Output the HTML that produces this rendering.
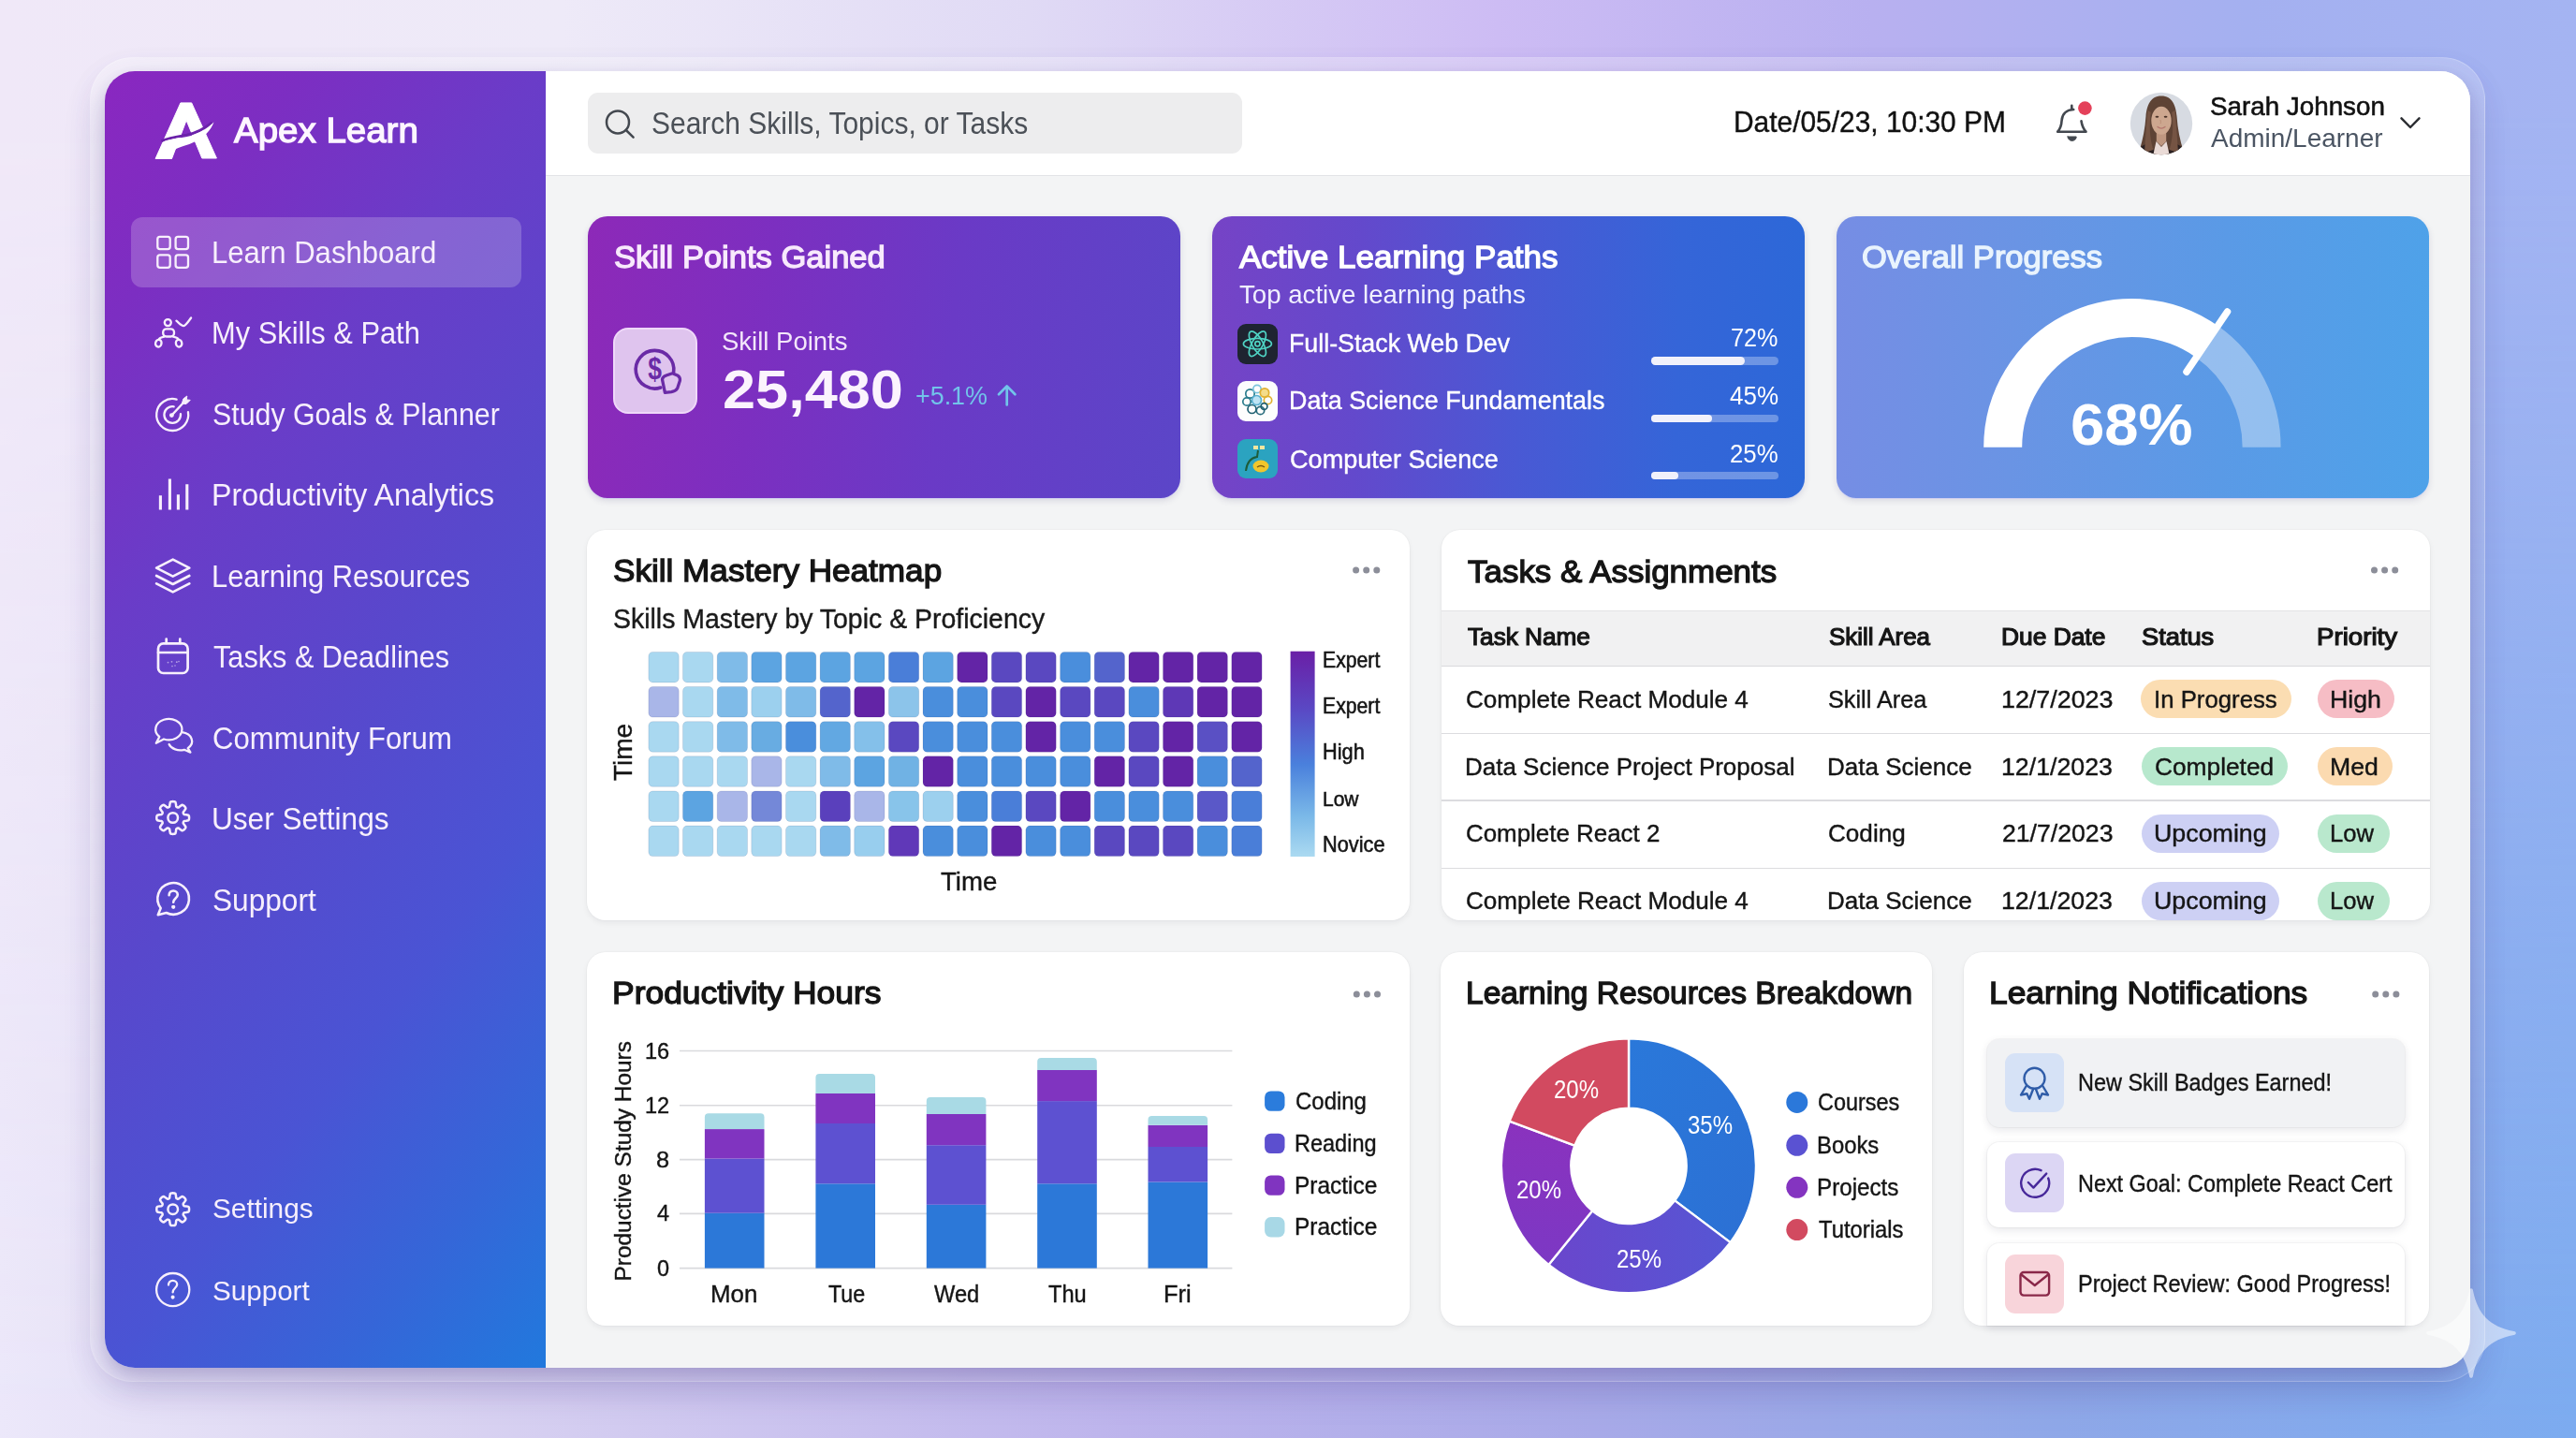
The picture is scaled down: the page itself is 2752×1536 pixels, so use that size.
<!DOCTYPE html>
<html lang="en">
<head>
<meta charset="utf-8">
<title>Apex Learn – Learn Dashboard</title>
<style>
html,body{margin:0;padding:0}
body{width:2752px;height:1536px;position:relative;overflow:hidden;font-family:"Liberation Sans",sans-serif;
 background:linear-gradient(90deg,#ece8fa 0px,#dcd6f2 400px,#bdb4ec 1200px,#a8aae8 1700px,#8fa8e8 2200px,#7cacf0 2752px)}
.bgtop{position:absolute;left:0;top:0;width:2752px;height:1536px;
 background:linear-gradient(90deg,#f0e8f8 0px,#eeeaf8 600px,#e0daf5 1100px,#cdbcf4 1600px,#b8b0f0 2000px,#a4b0f0 2400px,#a4b4f2 2752px);
 -webkit-mask-image:linear-gradient(180deg,#000 0%,#000 8%,rgba(0,0,0,0) 100%);mask-image:linear-gradient(180deg,#000 0%,#000 8%,rgba(0,0,0,0) 100%)}
.glass{position:absolute;left:96px;top:61px;width:2559px;height:1415px;border-radius:46px;box-sizing:border-box;
 background:linear-gradient(155deg,rgba(255,255,255,.34) 0%,rgba(255,255,255,.22) 45%,rgba(255,255,255,.09) 100%);border:1.5px solid rgba(255,255,255,.22);
 box-shadow:0 10px 30px rgba(70,50,130,.05)}
.win{position:absolute;left:112px;top:76px;width:2527px;height:1385px;border-radius:32px;overflow:hidden;background:#f3f4f5;box-shadow:0 18px 40px rgba(62,48,135,.27),0 6px 14px rgba(62,48,135,.12)}
.pg{position:absolute;left:-112px;top:-76px;width:2752px;height:1536px}
.pg>div,.pg>svg{position:absolute}
.side{left:112px;top:76px;width:471px;height:1385px;
 background:linear-gradient(128deg,#8a27c0 0%,#7c2ec2 14%,#6a3cc8 30%,#5848cc 50%,#4a54d4 70%,#3566d8 86%,#2179dd 100%)}
.navact{left:140px;top:231.5px;width:417px;height:75px;border-radius:12px;background:rgba(255,255,255,.20)}
.head{left:583px;top:76px;width:2056px;height:110.5px;background:#fff;border-bottom:1.5px solid #e2e3e6}
.search{left:628px;top:99px;width:699px;height:65px;border-radius:11px;background:#ededee}
.card{background:#fff;border-radius:20px;box-shadow:0 3px 6px rgba(20,20,40,.055),0 0 0 1px rgba(0,0,0,.018)}
.c1{left:627.5px;top:231px;width:633.3px;height:300.8px;border-radius:21px;background:linear-gradient(98deg,#8d29b8 0%,#7c2fc0 30%,#6a3ac6 60%,#5b46c8 100%);box-shadow:0 3px 7px rgba(40,30,90,.13),0 1px 0 rgba(225,225,255,.9)}
.c2{left:1295px;top:231px;width:633.2px;height:300.8px;border-radius:21px;background:linear-gradient(92deg,#7643c6 0%,#6349cc 25%,#4959d4 52%,#3565d8 78%,#2c68d8 100%);box-shadow:0 3px 7px rgba(40,30,90,.13),0 1px 0 rgba(225,225,255,.9)}
.c3{left:1961.6px;top:231px;width:633.2px;height:300.8px;border-radius:21px;background:linear-gradient(92deg,#768de4 0%,#6a94e4 30%,#5a9ae6 65%,#4ea2e9 100%);box-shadow:0 3px 7px rgba(40,30,90,.12),0 1px 0 rgba(225,225,255,.9)}
.tile1{left:655px;top:349.8px;width:90.4px;height:92.2px;border-radius:16px;background:#dfc4ee;box-sizing:border-box;border:2px solid #efd8f9}
.ptile{width:42.5px;height:42.5px;border-radius:9px;left:1322.2px}
.ptrack{left:1764px;width:136.4px;height:8.6px;border-radius:5px;background:rgba(255,255,255,.30)}
.pfill{height:8.6px;border-radius:5px;background:#f1f1fb;position:absolute;left:0;top:0}
.thead{left:1539.5px;top:651.5px;width:1056px;height:58px;background:#f1f1f2;border-top:1.5px solid #e3e3e5;border-bottom:1.5px solid #d9d9dc}
.sep{left:1539.5px;width:1056px;height:1.6px;background:#dcdcdf}
.pill{height:41.3px;border-radius:21px}
.nitem{left:2123.3px;width:445.6px;border-radius:13px;background:#fff;box-shadow:0 3px 10px rgba(20,20,50,.10),0 0 0 1px rgba(0,0,0,.03)}
.ntile{left:2142.3px;width:63px;height:63px;border-radius:11px}
.t{position:absolute;white-space:nowrap;line-height:1;transform-origin:0 0;display:block}
.t .i{display:inline-block;transform-origin:0 50%}
.m{-webkit-text-stroke:.55px currentColor}
.r2{-webkit-text-stroke:.4px currentColor}
.sb{-webkit-text-stroke:1.2px currentColor}
.b{-webkit-text-stroke:1.3px currentColor}
.B{font-weight:700}
</style>
</head>
<body>
<div class="bgtop"></div>
<div class="glass"></div>
<div class="win"><div class="pg">
<div class="side"></div>
<div class="navact"></div>
<div class="head"></div>
<div class="search"></div>

<div class="c1"></div><div class="c2"></div><div class="c3"></div>
<div class="tile1"></div>
<div class="ptile" style="top:346px;background:#1e2431"></div>
<div class="ptile" style="top:407px;background:#fdfdfd"></div>
<div class="ptile" style="top:468.6px;background:#2ba3c0"></div>
<div class="ptrack" style="top:381.2px"><div class="pfill" style="width:99.5px"></div></div>
<div class="ptrack" style="top:442.5px"><div class="pfill" style="width:64.7px"></div></div>
<div class="ptrack" style="top:503.7px"><div class="pfill" style="width:28.8px"></div></div>

<div class="card" style="left:627.3px;top:566px;width:878.5px;height:416.5px"></div>
<div class="card" style="left:1539.5px;top:566px;width:1056px;height:417.3px"></div>
<div class="card" style="left:627.3px;top:1016.8px;width:878.5px;height:399.5px"></div>
<div class="card" style="left:1539.3px;top:1016.8px;width:524.7px;height:399.7px"></div>
<div class="card" style="left:2097.7px;top:1016.8px;width:497.5px;height:399.7px"></div>

<div class="thead"></div>
<div class="sep" style="top:782.5px"></div><div class="sep" style="top:854px"></div><div class="sep" style="top:926.5px"></div>
<div class="pill" style="left:2287.3px;top:726.2px;width:161.2px;background:#fbddb2"></div>
<div class="pill" style="left:2287.9px;top:798.2px;width:155.9px;background:#b7e8cd"></div>
<div class="pill" style="left:2287.9px;top:870.2px;width:147.4px;background:#cdd0f4"></div>
<div class="pill" style="left:2287.9px;top:942.2px;width:147.4px;background:#cdd0f4"></div>
<div class="pill" style="left:2476px;top:726.2px;width:82px;background:#f6bdc5"></div>
<div class="pill" style="left:2476px;top:798.2px;width:79.8px;background:#fbdab0"></div>
<div class="pill" style="left:2476px;top:870.2px;width:77.3px;background:#b9e8cd"></div>
<div class="pill" style="left:2476px;top:942.2px;width:77.3px;background:#b9e8cd"></div>

<div class="nitem" style="top:1109.7px;height:94px;background:#f1f2f4"></div>
<div class="nitem" style="top:1219.8px;height:91px"></div>
<div class="nitem" style="top:1327.8px;height:88.7px;border-radius:13px 13px 0 0"></div>
<div class="ntile" style="top:1125.4px;background:#d6e2f6"></div>
<div class="ntile" style="top:1232.4px;background:#dcd6f4"></div>
<div class="ntile" style="top:1340px;background:#f8d4da"></div>

<svg width="2752" height="1536" viewBox="0 0 2752 1536" style="left:0;top:0">
<defs>
 <linearGradient id="gLeg" x1="0" y1="0" x2="0" y2="1"><stop offset="0" stop-color="#6a1fa6"/><stop offset=".28" stop-color="#5a48c4"/><stop offset=".55" stop-color="#4a80dc"/><stop offset=".8" stop-color="#7ab8e8"/><stop offset="1" stop-color="#abdaf1"/></linearGradient>
 <linearGradient id="gBlue" x1="0" y1="0" x2="1" y2="1"><stop offset="0" stop-color="#2a78da"/><stop offset="1" stop-color="#2c70d4"/></linearGradient>
 <linearGradient id="gInd" x1="1" y1="0" x2="0" y2="0"><stop offset="0" stop-color="#5656d4"/><stop offset="1" stop-color="#6a46cc"/></linearGradient>
 <linearGradient id="gPur" x1="0" y1="1" x2="0" y2="0"><stop offset="0" stop-color="#7c38c4"/><stop offset="1" stop-color="#8a32be"/></linearGradient>
 <clipPath id="av"><circle cx="2309" cy="132" r="33.2"/></clipPath>
</defs>

<!-- logo -->
<g fill="#fff">
 <path d="M192.9 109.9 L204.7 109.9 L231.4 169 L215.8 169 L199.1 128.5 L183.5 169.5 L166.1 169.5 Z" stroke="#fff" stroke-width="1" stroke-linejoin="round"/>
 <path d="M172.500 150.600 C183 146.300 192 145.600 199.500 144.200 C211 141.600 219.500 136.600 226.500 130.800" fill="none" stroke="#6b22aa" stroke-width="2.8" stroke-linecap="butt"/>
 <path d="M174.800 151.200 C184 147.800 193 147.300 199.700 146 C212 143.300 221 137.500 228.500 130.400 C225 139.500 218 146.500 209 151 C200 155.500 191 157 186.200 160.200 L183.500 169.500 L166.100 169.500 Z"/>
</g>

<!-- nav icons -->
<g fill="none" stroke="#f7effc" stroke-width="2.3" stroke-linecap="round" stroke-linejoin="round">
 <rect x="168.3" y="252.8" width="13.4" height="13.4" rx="2.6"/><rect x="187.6" y="252.8" width="13.4" height="13.4" rx="2.6"/>
 <rect x="168.3" y="272.4" width="13.4" height="13.4" rx="2.6"/><rect x="187.6" y="272.4" width="13.4" height="13.4" rx="2.6"/>
 <!-- my skills -->
 <circle cx="179.300" cy="344.600" r="3.500"/>
 <rect x="174.200" y="351.300" width="11.800" height="8.200" rx="3.500"/>
 <path d="M175.400 359.600 C171.800 360.400 170.100 361.400 169.600 362.700 M185 359.600 C188.600 360.400 190.300 361.400 190.800 362.700"/>
 <ellipse cx="169.300" cy="366.700" rx="3.200" ry="3.900" transform="rotate(14 169.300 366.700)"/><ellipse cx="191.100" cy="366.700" rx="3.200" ry="3.900" transform="rotate(-14 191.100 366.700)"/>
 <path d="M188.400 342.700 C191.600 345.400 194 348.300 196.200 348.100 C198.300 347.900 200.600 344.400 204.100 339.500"/>
 <!-- target -->
 <path d="M200.940 440.050 A17 17 0 1 1 188.600 426.580"/>
 <path d="M192.970 442.230 A8.800 8.800 0 1 1 185.730 434.330"/>
 <path d="M183.400 443.600 L197 429"/>
 <path d="M194.400 430.800 L195.900 425.900 L199.800 423 L199.300 426.900 L203.200 427.400 L199.300 431.300 Z" fill="#f7effc" stroke-width="1"/>
 <circle cx="183.400" cy="443.600" r="1.300" fill="#f7effc"/>
 <!-- bars -->
 <path d="M171.400 529.300 V544.500 M181.400 511.600 V544.500 M190.400 528.300 V544.500 M199.800 517.200 V544.500" stroke-width="3.100" stroke-linecap="butt"/>
 <!-- layers -->
 <g stroke-width="2.700"><path d="M184.700 597.600 L202.300 606.600 L184.700 615.600 L167.100 606.600 Z"/>
 <path d="M167.100 615 L184.700 624 L202.300 615"/><path d="M167.100 623.400 L184.700 632.400 L202.300 623.400"/></g>
 <!-- calendar -->
 <g stroke-width="2.700"><rect x="169" y="687.400" width="31.600" height="31.600" rx="5.500"/><path d="M169 697 H200.600 M177.700 682.500 V687 M192.300 682.500 V687"/></g>
 <g fill="#f7effc" stroke="none" opacity=".55"><circle cx="179.500" cy="707.600" r=".9"/><circle cx="183.500" cy="706.800" r=".9"/><circle cx="188.800" cy="707.200" r=".9"/><circle cx="191" cy="706.600" r=".8"/><circle cx="184" cy="711.600" r=".8"/><circle cx="187" cy="711" r=".8"/></g>
 <!-- chat -->
 <path d="M175 789.500 A14.100 11.200 0 1 0 170.300 787 L166.800 793.800 Z"/>
 <path d="M194.500 782.200 A12.700 9.700 0 0 1 200.700 799.100 L203.400 803.600 L196.800 800.800 A12.700 9.700 0 0 1 180.600 795"/>
 <path d="M184.7 856.1 L185.7 856.2 L186.6 856.3 L187.5 856.9 L188.0 859.2 L188.2 861.3 L188.7 862.0 L189.3 862.3 L190.0 862.5 L190.8 862.4 L192.5 861.1 L194.4 859.8 L195.5 860.0 L196.3 860.5 L197.0 861.2 L197.7 861.9 L198.2 862.7 L198.4 863.8 L197.1 865.7 L195.8 867.4 L195.7 868.2 L195.9 868.9 L196.2 869.5 L196.9 870.0 L199.0 870.2 L201.3 870.7 L201.9 871.6 L202.0 872.5 L202.1 873.5 L202.0 874.5 L201.9 875.4 L201.3 876.3 L199.0 876.8 L196.9 877.0 L196.2 877.5 L195.9 878.1 L195.7 878.8 L195.8 879.6 L197.1 881.3 L198.4 883.2 L198.2 884.3 L197.7 885.1 L197.0 885.8 L196.3 886.5 L195.5 887.0 L194.4 887.2 L192.5 885.9 L190.8 884.6 L190.0 884.5 L189.3 884.7 L188.7 885.0 L188.2 885.7 L188.0 887.8 L187.5 890.1 L186.6 890.7 L185.7 890.8 L184.7 890.9 L183.7 890.8 L182.8 890.7 L181.9 890.1 L181.4 887.8 L181.2 885.7 L180.7 885.0 L180.1 884.7 L179.4 884.5 L178.6 884.6 L176.9 885.9 L175.0 887.2 L173.9 887.0 L173.1 886.5 L172.4 885.8 L171.7 885.1 L171.2 884.3 L171.0 883.2 L172.3 881.3 L173.6 879.6 L173.7 878.8 L173.5 878.1 L173.2 877.5 L172.5 877.0 L170.4 876.8 L168.1 876.3 L167.5 875.4 L167.4 874.5 L167.3 873.5 L167.4 872.5 L167.5 871.6 L168.1 870.7 L170.4 870.2 L172.5 870.0 L173.2 869.5 L173.5 868.9 L173.7 868.2 L173.6 867.4 L172.3 865.7 L171.0 863.8 L171.2 862.7 L171.7 861.9 L172.4 861.2 L173.1 860.5 L173.9 860.0 L175.0 859.8 L176.9 861.1 L178.6 862.4 L179.4 862.5 L180.1 862.3 L180.7 862.0 L181.2 861.3 L181.4 859.2 L181.9 856.9 L182.8 856.3 L183.7 856.2 Z" stroke-linejoin="round" stroke-width="2.5"/><circle cx="184.7" cy="873.5" r="5.3" stroke-width="2.5"/>
 <!-- support bubble -->
 <g stroke-width="2.600"><path d="M171.700 970 A16.800 16.800 0 1 1 177.700 975 L168.800 977.200 Z"/>
 <path d="M180.600 956.300 c0 -3 2 -4.800 4.600 -4.800 c2.600 0 4.600 1.800 4.600 4.200 c0 3.600 -4.600 4 -4.600 8"/></g><circle cx="185.200" cy="968.800" r="1" fill="#f7effc"/>
 <path d="M184.7 1274.3 L185.7 1274.4 L186.6 1274.5 L187.5 1275.1 L188.0 1277.4 L188.2 1279.5 L188.7 1280.2 L189.3 1280.5 L190.0 1280.7 L190.8 1280.6 L192.5 1279.3 L194.4 1278.0 L195.5 1278.2 L196.3 1278.7 L197.0 1279.4 L197.7 1280.1 L198.2 1280.9 L198.4 1282.0 L197.1 1283.9 L195.8 1285.6 L195.7 1286.4 L195.9 1287.1 L196.2 1287.7 L196.9 1288.2 L199.0 1288.4 L201.3 1288.9 L201.9 1289.8 L202.0 1290.7 L202.1 1291.7 L202.0 1292.7 L201.9 1293.6 L201.3 1294.5 L199.0 1295.0 L196.9 1295.2 L196.2 1295.7 L195.9 1296.3 L195.7 1297.0 L195.8 1297.8 L197.1 1299.5 L198.4 1301.4 L198.2 1302.5 L197.7 1303.3 L197.0 1304.0 L196.3 1304.7 L195.5 1305.2 L194.4 1305.4 L192.5 1304.1 L190.8 1302.8 L190.0 1302.7 L189.3 1302.9 L188.7 1303.2 L188.2 1303.9 L188.0 1306.0 L187.5 1308.3 L186.6 1308.9 L185.7 1309.0 L184.7 1309.1 L183.7 1309.0 L182.8 1308.9 L181.9 1308.3 L181.4 1306.0 L181.2 1303.9 L180.7 1303.2 L180.1 1302.9 L179.4 1302.7 L178.6 1302.8 L176.9 1304.1 L175.0 1305.4 L173.9 1305.2 L173.1 1304.7 L172.4 1304.0 L171.7 1303.3 L171.2 1302.5 L171.0 1301.4 L172.3 1299.5 L173.6 1297.8 L173.7 1297.0 L173.5 1296.3 L173.2 1295.7 L172.5 1295.2 L170.4 1295.0 L168.1 1294.5 L167.5 1293.6 L167.4 1292.7 L167.3 1291.7 L167.4 1290.7 L167.5 1289.8 L168.1 1288.9 L170.4 1288.4 L172.5 1288.2 L173.2 1287.7 L173.5 1287.1 L173.7 1286.4 L173.6 1285.6 L172.3 1283.9 L171.0 1282.0 L171.2 1280.9 L171.7 1280.1 L172.4 1279.4 L173.1 1278.7 L173.9 1278.2 L175.0 1278.0 L176.9 1279.3 L178.6 1280.6 L179.4 1280.7 L180.1 1280.5 L180.7 1280.2 L181.2 1279.5 L181.4 1277.4 L181.9 1275.1 L182.8 1274.5 L183.7 1274.4 Z" stroke-linejoin="round" stroke-width="2.5"/><circle cx="184.7" cy="1291.7" r="5.3" stroke-width="2.5"/>
 <circle cx="184.7" cy="1377.6" r="17.6"/>
 <path d="M180 1372.6 c0 -3 2 -4.8 4.6 -4.8 c2.6 0 4.6 1.8 4.6 4.2 c0 3.6 -4.6 4 -4.6 8.4"/><circle cx="184.6" cy="1385.6" r=".9" fill="#f7effc"/>
</g>

<!-- header icons -->
<g fill="none" stroke="#43484f" stroke-width="2.5" stroke-linecap="round" stroke-linejoin="round">
 <circle cx="660" cy="130.4" r="12"/><path d="M668.8 139 L676.6 146.6"/>
 <path d="M2213.300 112.800 V116.300 M2215.200 117 C2207.500 117.400 2203 122 2202.600 128.600 C2202.300 134.200 2201 137.600 2198.200 140.700 H2228.500 C2225.700 137.600 2224.200 134.200 2223.500 129.200" stroke-width="2.600"/>
 <path d="M2209 146 H2218.200 A4.600 4.400 0 0 1 2209 146 Z" fill="#43484f" stroke-width="1"/>
 <path d="M2565.5 126.3 L2575 136 L2584.5 126.3" stroke="#2d2f33"/>
</g>
<circle cx="2227.4" cy="115.600" r="7.300" fill="#e4415a"/>
<!-- avatar -->
<g clip-path="url(#av)">
 <rect x="2275" y="98" width="68" height="68" fill="#d7dbe2"/>
 <path d="M2309 102.400 C2297 102.400 2293.500 113 2292.500 124 C2291.500 138 2289 150 2285.500 161 L2285 167 L2333 167 L2332.500 161 C2329 150 2326.500 138 2325.500 124 C2324.500 113 2321 102.400 2309 102.400 Z" fill="#5e4335"/>
 <path d="M2279 166 L2281 160 L2296 152 L2305 167 Z M2339 166 L2337 160 L2322 152 L2313 167 Z" fill="#2a2122"/>
 <path d="M2303.800 138 h10.400 v13 l-5.200 5 l-5.200 -5 z" fill="#bf9780"/>
 <path d="M2303.500 151 L2309 157 L2314.500 151 L2318 167 L2300 167 Z" fill="#eadbd7"/>
 <ellipse cx="2309" cy="128.800" rx="10.700" ry="15" fill="#cda78f"/>
 <path d="M2309 108.500 C2302 108.500 2297.500 114 2297.800 126 C2299 119 2302 114.500 2309 112.500 C2316 114.500 2319 119 2320.200 126 C2320.500 114 2316 108.500 2309 108.500 Z" fill="#5e4335"/>
 <path d="M2297.800 120 C2296 134 2296.500 148 2300.500 160 L2291 163 C2292 148 2293 132 2294.500 118 Z M2320.200 120 C2322 134 2321.500 148 2317.500 160 L2327 163 C2326 148 2325 132 2323.500 118 Z" fill="#755443"/>
 <ellipse cx="2304.400" cy="124.800" rx="1.900" ry="1" fill="#4a3228"/><ellipse cx="2313.600" cy="124.800" rx="1.900" ry="1" fill="#4a3228"/>
 <path d="M2305 135.500 Q2309 138.600 2313 135.500" fill="none" stroke="#b4766e" stroke-width="1.300" stroke-linecap="round"/>
 <path d="M2308 128 q1 3 0 4.200" fill="none" stroke="#b98f78" stroke-width="1"/>
</g>

<!-- card1 icon -->
<g fill="none" stroke="#6a2aa6" stroke-width="3.6" stroke-linecap="round" stroke-linejoin="round">
 <path d="M705.8 414 A20.3 20.3 0 1 1 719.650 397.200"/>
 <path d="M711.8 401 L718.4 398.700 L724.3 401.300 Q726.9 403.200 726.4 406.600 L723.7 414.800 Q722 417.800 717.2 418.600 L710.400 419.300 L707.500 405.400 Q707.600 402.600 711.800 401 Z" stroke-width="3.300"/>
</g>
<text transform="translate(699.5 404.6) scale(.8 1)" font-family="Liberation Sans, sans-serif" font-size="33" font-weight="700" text-anchor="middle" fill="#6a2aa6">$</text>
<path d="M1075.700 432.500 V413 M1067 421.200 L1075.700 412.400 L1084.400 421.200" fill="none" stroke="#72c4ea" stroke-width="2.7" stroke-linecap="round" stroke-linejoin="round"/>

<!-- card2 icons -->
<g fill="none" stroke="#4fd3c4" stroke-width="1.700">
 <ellipse cx="1343.400" cy="367.200" rx="15" ry="5.800"/><ellipse cx="1343.400" cy="367.200" rx="15" ry="5.800" transform="rotate(60 1343.400 367.200)"/><ellipse cx="1343.400" cy="367.200" rx="15" ry="5.800" transform="rotate(120 1343.400 367.200)"/>
 <circle cx="1343.400" cy="367.200" r="2.600"/>
</g>
<g fill="none" stroke-width="1.700">
 <circle cx="1335.500" cy="420.500" r="4.700" stroke="#2a7c8c"/><circle cx="1343" cy="415.500" r="4.200" stroke="#7cc4dc"/><circle cx="1351" cy="419.500" r="4.700" stroke="#e0b030" fill="#f4dc8a"/><circle cx="1354.500" cy="427.500" r="4.200" stroke="#e0b030"/>
 <circle cx="1332" cy="429" r="4.200" stroke="#2a7c8c"/><circle cx="1337.500" cy="437" r="4.500" stroke="#1f5f70"/><circle cx="1346.500" cy="438.500" r="4.200" stroke="#2a6c7c"/><circle cx="1350.500" cy="434" r="3.400" stroke="#1f5f70"/><circle cx="1342.500" cy="427.500" r="5" stroke="#5ab0d0" fill="#bfe4f4"/>
</g>
<g>
 <path d="M1331 503 c1 -9 5 -14 12 -15 l1 -7" fill="none" stroke="#1d5c3a" stroke-width="2"/>
 <ellipse cx="1347" cy="498" rx="8.500" ry="6.500" fill="#f0c62c"/><path d="M1339 476 h5 v4 h-5 z M1346 476 h5 v4 h-5 z" fill="#f0e6a0"/>
 <path d="M1343 499 q4 -3 8 0" fill="none" stroke="#7a5a10" stroke-width="1.500"/>
</g>

<path d="M2358.2 365.2 A138.2 138.2 0 0 1 2416.1 477.7" stroke="rgba(255,255,255,.36)" stroke-width="41" fill="none"/><path d="M2139.7 477.7 A138.2 138.2 0 0 1 2358.2 365.2" stroke="#fff" stroke-width="41" fill="none"/><line x1="2336" y1="397.2" x2="2379.5" y2="333" stroke="#fff" stroke-width="7.5" stroke-linecap="round"/>

<!-- card dots -->
<g fill="#8c8e99">
 <circle cx="1448.600" cy="608.900" r="3.500"/><circle cx="1459.700" cy="608.900" r="3.500"/><circle cx="1470.800" cy="608.900" r="3.500"/>
 <circle cx="2536.500" cy="608.900" r="3.500"/><circle cx="2547.600" cy="608.900" r="3.500"/><circle cx="2558.700" cy="608.900" r="3.500"/>
 <circle cx="1449.300" cy="1061.900" r="3.500"/><circle cx="1460.400" cy="1061.900" r="3.500"/><circle cx="1471.500" cy="1061.900" r="3.500"/>
 <circle cx="2537.700" cy="1062" r="3.500"/><circle cx="2548.800" cy="1062" r="3.500"/><circle cx="2559.900" cy="1062" r="3.500"/>
</g>

<!-- heatmap -->
<rect x="692.9" y="696.4" width="32.3" height="32.5" rx="4.5" fill="#a9d8f0" stroke="rgba(10,20,90,.10)" stroke-width="1"/>
<rect x="729.5" y="696.4" width="32.3" height="32.5" rx="4.5" fill="#a9d8f0" stroke="rgba(10,20,90,.10)" stroke-width="1"/>
<rect x="766.2" y="696.4" width="32.3" height="32.5" rx="4.5" fill="#7fbbe8" stroke="rgba(10,20,90,.10)" stroke-width="1"/>
<rect x="802.8" y="696.4" width="32.3" height="32.5" rx="4.5" fill="#5ca4e1" stroke="rgba(10,20,90,.10)" stroke-width="1"/>
<rect x="839.5" y="696.4" width="32.3" height="32.5" rx="4.5" fill="#5ca4e1" stroke="rgba(10,20,90,.10)" stroke-width="1"/>
<rect x="876.1" y="696.4" width="32.3" height="32.5" rx="4.5" fill="#5ca4e1" stroke="rgba(10,20,90,.10)" stroke-width="1"/>
<rect x="912.7" y="696.4" width="32.3" height="32.5" rx="4.5" fill="#5ca4e1" stroke="rgba(10,20,90,.10)" stroke-width="1"/>
<rect x="949.4" y="696.4" width="32.3" height="32.5" rx="4.5" fill="#4a7ed8" stroke="rgba(10,20,90,.10)" stroke-width="1"/>
<rect x="986" y="696.4" width="32.3" height="32.5" rx="4.5" fill="#5ca4e1" stroke="rgba(10,20,90,.10)" stroke-width="1"/>
<rect x="1022.7" y="696.4" width="32.3" height="32.5" rx="4.5" fill="#6324a6" stroke="rgba(10,20,90,.10)" stroke-width="1"/>
<rect x="1059.3" y="696.4" width="32.3" height="32.5" rx="4.5" fill="#5a48c0" stroke="rgba(10,20,90,.10)" stroke-width="1"/>
<rect x="1095.9" y="696.4" width="32.3" height="32.5" rx="4.5" fill="#5a48c0" stroke="rgba(10,20,90,.10)" stroke-width="1"/>
<rect x="1132.6" y="696.4" width="32.3" height="32.5" rx="4.5" fill="#4a8edc" stroke="rgba(10,20,90,.10)" stroke-width="1"/>
<rect x="1169.2" y="696.4" width="32.3" height="32.5" rx="4.5" fill="#5464cc" stroke="rgba(10,20,90,.10)" stroke-width="1"/>
<rect x="1205.9" y="696.4" width="32.3" height="32.5" rx="4.5" fill="#6324a6" stroke="rgba(10,20,90,.10)" stroke-width="1"/>
<rect x="1242.5" y="696.4" width="32.3" height="32.5" rx="4.5" fill="#6324a6" stroke="rgba(10,20,90,.10)" stroke-width="1"/>
<rect x="1279.1" y="696.4" width="32.3" height="32.5" rx="4.5" fill="#6324a6" stroke="rgba(10,20,90,.10)" stroke-width="1"/>
<rect x="1315.8" y="696.4" width="32.3" height="32.5" rx="4.5" fill="#6324a6" stroke="rgba(10,20,90,.10)" stroke-width="1"/>
<rect x="692.9" y="733.5" width="32.3" height="32.5" rx="4.5" fill="#a9b6e8" stroke="rgba(10,20,90,.10)" stroke-width="1"/>
<rect x="729.5" y="733.5" width="32.3" height="32.5" rx="4.5" fill="#a9d8f0" stroke="rgba(10,20,90,.10)" stroke-width="1"/>
<rect x="766.2" y="733.5" width="32.3" height="32.5" rx="4.5" fill="#7fbbe8" stroke="rgba(10,20,90,.10)" stroke-width="1"/>
<rect x="802.8" y="733.5" width="32.3" height="32.5" rx="4.5" fill="#9cd0ee" stroke="rgba(10,20,90,.10)" stroke-width="1"/>
<rect x="839.5" y="733.5" width="32.3" height="32.5" rx="4.5" fill="#7fbbe8" stroke="rgba(10,20,90,.10)" stroke-width="1"/>
<rect x="876.1" y="733.5" width="32.3" height="32.5" rx="4.5" fill="#5464cc" stroke="rgba(10,20,90,.10)" stroke-width="1"/>
<rect x="912.7" y="733.5" width="32.3" height="32.5" rx="4.5" fill="#6324a6" stroke="rgba(10,20,90,.10)" stroke-width="1"/>
<rect x="949.4" y="733.5" width="32.3" height="32.5" rx="4.5" fill="#8cc4ea" stroke="rgba(10,20,90,.10)" stroke-width="1"/>
<rect x="986" y="733.5" width="32.3" height="32.5" rx="4.5" fill="#4a8edc" stroke="rgba(10,20,90,.10)" stroke-width="1"/>
<rect x="1022.7" y="733.5" width="32.3" height="32.5" rx="4.5" fill="#4a8edc" stroke="rgba(10,20,90,.10)" stroke-width="1"/>
<rect x="1059.3" y="733.5" width="32.3" height="32.5" rx="4.5" fill="#5a48c0" stroke="rgba(10,20,90,.10)" stroke-width="1"/>
<rect x="1095.9" y="733.5" width="32.3" height="32.5" rx="4.5" fill="#6324a6" stroke="rgba(10,20,90,.10)" stroke-width="1"/>
<rect x="1132.6" y="733.5" width="32.3" height="32.5" rx="4.5" fill="#5a48c0" stroke="rgba(10,20,90,.10)" stroke-width="1"/>
<rect x="1169.2" y="733.5" width="32.3" height="32.5" rx="4.5" fill="#5a48c0" stroke="rgba(10,20,90,.10)" stroke-width="1"/>
<rect x="1205.9" y="733.5" width="32.3" height="32.5" rx="4.5" fill="#4a8edc" stroke="rgba(10,20,90,.10)" stroke-width="1"/>
<rect x="1242.5" y="733.5" width="32.3" height="32.5" rx="4.5" fill="#5e38b6" stroke="rgba(10,20,90,.10)" stroke-width="1"/>
<rect x="1279.1" y="733.5" width="32.3" height="32.5" rx="4.5" fill="#6324a6" stroke="rgba(10,20,90,.10)" stroke-width="1"/>
<rect x="1315.8" y="733.5" width="32.3" height="32.5" rx="4.5" fill="#6324a6" stroke="rgba(10,20,90,.10)" stroke-width="1"/>
<rect x="692.9" y="770.7" width="32.3" height="32.5" rx="4.5" fill="#a9d8f0" stroke="rgba(10,20,90,.10)" stroke-width="1"/>
<rect x="729.5" y="770.7" width="32.3" height="32.5" rx="4.5" fill="#a9d8f0" stroke="rgba(10,20,90,.10)" stroke-width="1"/>
<rect x="766.2" y="770.7" width="32.3" height="32.5" rx="4.5" fill="#7fbbe8" stroke="rgba(10,20,90,.10)" stroke-width="1"/>
<rect x="802.8" y="770.7" width="32.3" height="32.5" rx="4.5" fill="#68ace2" stroke="rgba(10,20,90,.10)" stroke-width="1"/>
<rect x="839.5" y="770.7" width="32.3" height="32.5" rx="4.5" fill="#4a8edc" stroke="rgba(10,20,90,.10)" stroke-width="1"/>
<rect x="876.1" y="770.7" width="32.3" height="32.5" rx="4.5" fill="#62a8e2" stroke="rgba(10,20,90,.10)" stroke-width="1"/>
<rect x="912.7" y="770.7" width="32.3" height="32.5" rx="4.5" fill="#84c0ea" stroke="rgba(10,20,90,.10)" stroke-width="1"/>
<rect x="949.4" y="770.7" width="32.3" height="32.5" rx="4.5" fill="#5a48c0" stroke="rgba(10,20,90,.10)" stroke-width="1"/>
<rect x="986" y="770.7" width="32.3" height="32.5" rx="4.5" fill="#4a8edc" stroke="rgba(10,20,90,.10)" stroke-width="1"/>
<rect x="1022.7" y="770.7" width="32.3" height="32.5" rx="4.5" fill="#4a8edc" stroke="rgba(10,20,90,.10)" stroke-width="1"/>
<rect x="1059.3" y="770.7" width="32.3" height="32.5" rx="4.5" fill="#4a8edc" stroke="rgba(10,20,90,.10)" stroke-width="1"/>
<rect x="1095.9" y="770.7" width="32.3" height="32.5" rx="4.5" fill="#6324a6" stroke="rgba(10,20,90,.10)" stroke-width="1"/>
<rect x="1132.6" y="770.7" width="32.3" height="32.5" rx="4.5" fill="#4a8edc" stroke="rgba(10,20,90,.10)" stroke-width="1"/>
<rect x="1169.2" y="770.7" width="32.3" height="32.5" rx="4.5" fill="#4a8edc" stroke="rgba(10,20,90,.10)" stroke-width="1"/>
<rect x="1205.9" y="770.7" width="32.3" height="32.5" rx="4.5" fill="#5a48c0" stroke="rgba(10,20,90,.10)" stroke-width="1"/>
<rect x="1242.5" y="770.7" width="32.3" height="32.5" rx="4.5" fill="#6324a6" stroke="rgba(10,20,90,.10)" stroke-width="1"/>
<rect x="1279.1" y="770.7" width="32.3" height="32.5" rx="4.5" fill="#5a50c4" stroke="rgba(10,20,90,.10)" stroke-width="1"/>
<rect x="1315.8" y="770.7" width="32.3" height="32.5" rx="4.5" fill="#6324a6" stroke="rgba(10,20,90,.10)" stroke-width="1"/>
<rect x="692.9" y="807.8" width="32.3" height="32.5" rx="4.5" fill="#a9d8f0" stroke="rgba(10,20,90,.10)" stroke-width="1"/>
<rect x="729.5" y="807.8" width="32.3" height="32.5" rx="4.5" fill="#a9d8f0" stroke="rgba(10,20,90,.10)" stroke-width="1"/>
<rect x="766.2" y="807.8" width="32.3" height="32.5" rx="4.5" fill="#a9d8f0" stroke="rgba(10,20,90,.10)" stroke-width="1"/>
<rect x="802.8" y="807.8" width="32.3" height="32.5" rx="4.5" fill="#a9b6e8" stroke="rgba(10,20,90,.10)" stroke-width="1"/>
<rect x="839.5" y="807.8" width="32.3" height="32.5" rx="4.5" fill="#a9d8f0" stroke="rgba(10,20,90,.10)" stroke-width="1"/>
<rect x="876.1" y="807.8" width="32.3" height="32.5" rx="4.5" fill="#7fbbe8" stroke="rgba(10,20,90,.10)" stroke-width="1"/>
<rect x="912.7" y="807.8" width="32.3" height="32.5" rx="4.5" fill="#5ca4e1" stroke="rgba(10,20,90,.10)" stroke-width="1"/>
<rect x="949.4" y="807.8" width="32.3" height="32.5" rx="4.5" fill="#70b2e4" stroke="rgba(10,20,90,.10)" stroke-width="1"/>
<rect x="986" y="807.8" width="32.3" height="32.5" rx="4.5" fill="#6324a6" stroke="rgba(10,20,90,.10)" stroke-width="1"/>
<rect x="1022.7" y="807.8" width="32.3" height="32.5" rx="4.5" fill="#4a8edc" stroke="rgba(10,20,90,.10)" stroke-width="1"/>
<rect x="1059.3" y="807.8" width="32.3" height="32.5" rx="4.5" fill="#4a8edc" stroke="rgba(10,20,90,.10)" stroke-width="1"/>
<rect x="1095.9" y="807.8" width="32.3" height="32.5" rx="4.5" fill="#4a8edc" stroke="rgba(10,20,90,.10)" stroke-width="1"/>
<rect x="1132.6" y="807.8" width="32.3" height="32.5" rx="4.5" fill="#4a8edc" stroke="rgba(10,20,90,.10)" stroke-width="1"/>
<rect x="1169.2" y="807.8" width="32.3" height="32.5" rx="4.5" fill="#6324a6" stroke="rgba(10,20,90,.10)" stroke-width="1"/>
<rect x="1205.9" y="807.8" width="32.3" height="32.5" rx="4.5" fill="#5a48c0" stroke="rgba(10,20,90,.10)" stroke-width="1"/>
<rect x="1242.5" y="807.8" width="32.3" height="32.5" rx="4.5" fill="#6324a6" stroke="rgba(10,20,90,.10)" stroke-width="1"/>
<rect x="1279.1" y="807.8" width="32.3" height="32.5" rx="4.5" fill="#4a8edc" stroke="rgba(10,20,90,.10)" stroke-width="1"/>
<rect x="1315.8" y="807.8" width="32.3" height="32.5" rx="4.5" fill="#5464cc" stroke="rgba(10,20,90,.10)" stroke-width="1"/>
<rect x="692.9" y="845" width="32.3" height="32.5" rx="4.5" fill="#a9d8f0" stroke="rgba(10,20,90,.10)" stroke-width="1"/>
<rect x="729.5" y="845" width="32.3" height="32.5" rx="4.5" fill="#5ca4e1" stroke="rgba(10,20,90,.10)" stroke-width="1"/>
<rect x="766.2" y="845" width="32.3" height="32.5" rx="4.5" fill="#a9b6e8" stroke="rgba(10,20,90,.10)" stroke-width="1"/>
<rect x="802.8" y="845" width="32.3" height="32.5" rx="4.5" fill="#7488d8" stroke="rgba(10,20,90,.10)" stroke-width="1"/>
<rect x="839.5" y="845" width="32.3" height="32.5" rx="4.5" fill="#a9d8f0" stroke="rgba(10,20,90,.10)" stroke-width="1"/>
<rect x="876.1" y="845" width="32.3" height="32.5" rx="4.5" fill="#5a40bc" stroke="rgba(10,20,90,.10)" stroke-width="1"/>
<rect x="912.7" y="845" width="32.3" height="32.5" rx="4.5" fill="#a9b6e8" stroke="rgba(10,20,90,.10)" stroke-width="1"/>
<rect x="949.4" y="845" width="32.3" height="32.5" rx="4.5" fill="#88c4ea" stroke="rgba(10,20,90,.10)" stroke-width="1"/>
<rect x="986" y="845" width="32.3" height="32.5" rx="4.5" fill="#9cd0ee" stroke="rgba(10,20,90,.10)" stroke-width="1"/>
<rect x="1022.7" y="845" width="32.3" height="32.5" rx="4.5" fill="#4a8edc" stroke="rgba(10,20,90,.10)" stroke-width="1"/>
<rect x="1059.3" y="845" width="32.3" height="32.5" rx="4.5" fill="#4a7ed8" stroke="rgba(10,20,90,.10)" stroke-width="1"/>
<rect x="1095.9" y="845" width="32.3" height="32.5" rx="4.5" fill="#5a48c0" stroke="rgba(10,20,90,.10)" stroke-width="1"/>
<rect x="1132.6" y="845" width="32.3" height="32.5" rx="4.5" fill="#6324a6" stroke="rgba(10,20,90,.10)" stroke-width="1"/>
<rect x="1169.2" y="845" width="32.3" height="32.5" rx="4.5" fill="#4a8edc" stroke="rgba(10,20,90,.10)" stroke-width="1"/>
<rect x="1205.9" y="845" width="32.3" height="32.5" rx="4.5" fill="#4a8edc" stroke="rgba(10,20,90,.10)" stroke-width="1"/>
<rect x="1242.5" y="845" width="32.3" height="32.5" rx="4.5" fill="#4a8edc" stroke="rgba(10,20,90,.10)" stroke-width="1"/>
<rect x="1279.1" y="845" width="32.3" height="32.5" rx="4.5" fill="#5a58c8" stroke="rgba(10,20,90,.10)" stroke-width="1"/>
<rect x="1315.8" y="845" width="32.3" height="32.5" rx="4.5" fill="#4a7ed8" stroke="rgba(10,20,90,.10)" stroke-width="1"/>
<rect x="692.9" y="882.1" width="32.3" height="32.5" rx="4.5" fill="#a9d8f0" stroke="rgba(10,20,90,.10)" stroke-width="1"/>
<rect x="729.5" y="882.1" width="32.3" height="32.5" rx="4.5" fill="#a9d8f0" stroke="rgba(10,20,90,.10)" stroke-width="1"/>
<rect x="766.2" y="882.1" width="32.3" height="32.5" rx="4.5" fill="#a9d8f0" stroke="rgba(10,20,90,.10)" stroke-width="1"/>
<rect x="802.8" y="882.1" width="32.3" height="32.5" rx="4.5" fill="#a9d8f0" stroke="rgba(10,20,90,.10)" stroke-width="1"/>
<rect x="839.5" y="882.1" width="32.3" height="32.5" rx="4.5" fill="#a9d8f0" stroke="rgba(10,20,90,.10)" stroke-width="1"/>
<rect x="876.1" y="882.1" width="32.3" height="32.5" rx="4.5" fill="#7fbbe8" stroke="rgba(10,20,90,.10)" stroke-width="1"/>
<rect x="912.7" y="882.1" width="32.3" height="32.5" rx="4.5" fill="#98ceee" stroke="rgba(10,20,90,.10)" stroke-width="1"/>
<rect x="949.4" y="882.1" width="32.3" height="32.5" rx="4.5" fill="#6038b8" stroke="rgba(10,20,90,.10)" stroke-width="1"/>
<rect x="986" y="882.1" width="32.3" height="32.5" rx="4.5" fill="#4a8edc" stroke="rgba(10,20,90,.10)" stroke-width="1"/>
<rect x="1022.7" y="882.1" width="32.3" height="32.5" rx="4.5" fill="#4a8edc" stroke="rgba(10,20,90,.10)" stroke-width="1"/>
<rect x="1059.3" y="882.1" width="32.3" height="32.5" rx="4.5" fill="#6324a6" stroke="rgba(10,20,90,.10)" stroke-width="1"/>
<rect x="1095.9" y="882.1" width="32.3" height="32.5" rx="4.5" fill="#4a8edc" stroke="rgba(10,20,90,.10)" stroke-width="1"/>
<rect x="1132.6" y="882.1" width="32.3" height="32.5" rx="4.5" fill="#4a8edc" stroke="rgba(10,20,90,.10)" stroke-width="1"/>
<rect x="1169.2" y="882.1" width="32.3" height="32.5" rx="4.5" fill="#5a48c0" stroke="rgba(10,20,90,.10)" stroke-width="1"/>
<rect x="1205.9" y="882.1" width="32.3" height="32.5" rx="4.5" fill="#5a48c0" stroke="rgba(10,20,90,.10)" stroke-width="1"/>
<rect x="1242.5" y="882.1" width="32.3" height="32.5" rx="4.5" fill="#5a48c0" stroke="rgba(10,20,90,.10)" stroke-width="1"/>
<rect x="1279.1" y="882.1" width="32.3" height="32.5" rx="4.5" fill="#4a8edc" stroke="rgba(10,20,90,.10)" stroke-width="1"/>
<rect x="1315.8" y="882.1" width="32.3" height="32.5" rx="4.5" fill="#4a7ed8" stroke="rgba(10,20,90,.10)" stroke-width="1"/>
<rect x="1378.600" y="695.700" width="26" height="219.300" fill="url(#gLeg)"/>

<!-- bar chart -->
<line x1="726" x2="1316.4" y1="1122.5" y2="1122.5" stroke="#d9dadd" stroke-width="1.6"/>
<line x1="726" x2="1316.4" y1="1180.7" y2="1180.7" stroke="#d9dadd" stroke-width="1.6"/>
<line x1="726" x2="1316.4" y1="1238.6" y2="1238.6" stroke="#d9dadd" stroke-width="1.6"/>
<line x1="726" x2="1316.4" y1="1296.4" y2="1296.4" stroke="#d9dadd" stroke-width="1.6"/>
<line x1="726" x2="1316.4" y1="1354.6" y2="1354.6" stroke="#d9dadd" stroke-width="1.6"/>
<rect x="752.9" y="1295.7" width="63.6" height="58.9" fill="#2c78d8"/>
<rect x="752.9" y="1237.5" width="63.6" height="58.2" fill="#5d51d1"/>
<rect x="752.9" y="1206.1" width="63.6" height="31.4" fill="#8034c0"/>
<path d="M752.9 1206.1 V1193.3 Q752.9 1189.3 756.9 1189.3 H812.5 Q816.5 1189.3 816.5 1193.3 V1206.1 Z" fill="#a9dae5"/>
<rect x="871.4" y="1264.3" width="63.6" height="90.3" fill="#2c78d8"/>
<rect x="871.4" y="1200" width="63.6" height="64.3" fill="#5d51d1"/>
<rect x="871.4" y="1167.9" width="63.6" height="32.1" fill="#8034c0"/>
<path d="M871.4 1167.9 V1151.1 Q871.4 1147.1 875.4 1147.1 H931 Q935 1147.1 935 1151.1 V1167.9 Z" fill="#a9dae5"/>
<rect x="989.8" y="1286.8" width="63.6" height="67.8" fill="#2c78d8"/>
<rect x="989.8" y="1223.2" width="63.6" height="63.6" fill="#5d51d1"/>
<rect x="989.8" y="1190" width="63.6" height="33.2" fill="#8034c0"/>
<path d="M989.8 1190 V1176.1 Q989.8 1172.1 993.8 1172.1 H1049.4 Q1053.4 1172.1 1053.4 1176.1 V1190 Z" fill="#a9dae5"/>
<rect x="1108.2" y="1264.3" width="63.6" height="90.3" fill="#2c78d8"/>
<rect x="1108.2" y="1176.1" width="63.6" height="88.2" fill="#5d51d1"/>
<rect x="1108.2" y="1142.9" width="63.6" height="33.2" fill="#8034c0"/>
<path d="M1108.2 1142.9 V1134 Q1108.2 1130 1112.2 1130 H1167.8 Q1171.8 1130 1171.8 1134 V1142.9 Z" fill="#a9dae5"/>
<rect x="1226.5" y="1262.5" width="63.6" height="92.1" fill="#2c78d8"/>
<rect x="1226.5" y="1225" width="63.6" height="37.5" fill="#5d51d1"/>
<rect x="1226.5" y="1201.8" width="63.6" height="23.2" fill="#8034c0"/>
<path d="M1226.5 1201.8 V1196.1 Q1226.5 1192.1 1230.5 1192.1 H1286.1 Q1290.1 1192.1 1290.1 1196.1 V1201.8 Z" fill="#a9dae5"/>
<g>
 <rect x="1351.100" y="1165.400" width="21.400" height="21.400" rx="6.500" fill="#2b7cdc"/><rect x="1351.100" y="1210.700" width="21.400" height="21.400" rx="6.500" fill="#5c4fcf"/>
 <rect x="1351.100" y="1255.400" width="21.400" height="21.400" rx="6.500" fill="#8034c0"/><rect x="1351.100" y="1300" width="21.400" height="21.400" rx="6.500" fill="#a8d8e6"/>
</g>

<!-- donut -->
<path d="M1740 1109.3 A136 136 0 0 1 1848.6 1327.1 L1789.2 1282.4 A61.6 61.6 0 0 0 1740 1183.7 Z" fill="url(#gBlue)" stroke="#fff" stroke-width="2.4" stroke-linejoin="round"/>
<path d="M1848.6 1327.1 A136 136 0 0 1 1654.4 1351 L1701.2 1293.2 A61.6 61.6 0 0 0 1789.2 1282.4 Z" fill="url(#gInd)" stroke="#fff" stroke-width="2.4" stroke-linejoin="round"/>
<path d="M1654.4 1351 A136 136 0 0 1 1612.6 1197.7 L1682.3 1223.7 A61.6 61.6 0 0 0 1701.2 1293.2 Z" fill="url(#gPur)" stroke="#fff" stroke-width="2.4" stroke-linejoin="round"/>
<path d="M1612.6 1197.7 A136 136 0 0 1 1740 1109.3 L1740 1183.7 A61.6 61.6 0 0 0 1682.3 1223.7 Z" fill="#d24a60" stroke="#fff" stroke-width="2.4" stroke-linejoin="round"/>
<circle cx="1919.800" cy="1177.400" r="11.500" fill="#2b78da"/><circle cx="1919.800" cy="1223.300" r="11.500" fill="#5a52d2"/><circle cx="1919.800" cy="1268.300" r="11.500" fill="#8434c0"/><circle cx="1919.800" cy="1313.600" r="11.500" fill="#d24a60"/>

<!-- notif icons -->
<g fill="none" stroke-width="2.400" stroke-linecap="round" stroke-linejoin="round">
 <g stroke="#2f5ca8"><circle cx="2173.500" cy="1151.800" r="11"/><path d="M2165 1159.500 l-6 10 l6.400 -1.200 l2.600 5.400 l4 -10.200 M2182 1159.500 l6 10 l-6.400 -1.200 l-2.600 5.400 l-4 -10.200"/></g>
 <g stroke="#47289a"><path d="M2188.200 1258.500 A15 15 0 1 1 2180.500 1250.200"/><path d="M2166.800 1263 l5.600 5.600 l13.800 -15"/></g>
 <g stroke="#8a2849"><rect x="2158.500" y="1359" width="30.600" height="24.600" rx="3.500"/><path d="M2159.500 1361.500 l14.300 11.500 l14.300 -11.500"/></g>
</g>
</svg>
<span class="t b" style="left:250.2px;top:122.4px;font-size:36.45px;color:#fdf6ff;transform:scaleX(1.0561)">Apex Learn</span>
<span class="t r" style="left:226.3px;top:252.5px;font-size:33.24px;color:#f7effc;transform:scaleX(0.9355)">Learn Dashboard</span>
<span class="t r" style="left:226.3px;top:339.0px;font-size:33.24px;color:#f7effc;transform:scaleX(0.9281)">My Skills &amp; Path</span>
<span class="t r" style="left:227.3px;top:425.6px;font-size:33.24px;color:#f7effc;transform:scaleX(0.9124)">Study Goals &amp; Planner</span>
<span class="t r" style="left:226.3px;top:512.1px;font-size:33.24px;color:#f7effc;transform:scaleX(0.9680)">Productivity Analytics</span>
<span class="t r" style="left:226.3px;top:598.7px;font-size:33.24px;color:#f7effc;transform:scaleX(0.9287)">Learning Resources</span>
<span class="t r" style="left:228.2px;top:685.2px;font-size:33.24px;color:#f7effc;transform:scaleX(0.9224)">Tasks &amp; Deadlines</span>
<span class="t r" style="left:227.3px;top:771.8px;font-size:33.24px;color:#f7effc;transform:scaleX(0.9360)">Community Forum</span>
<span class="t r" style="left:226.3px;top:858.3px;font-size:33.24px;color:#f7effc;transform:scaleX(0.9499)">User Settings</span>
<span class="t r" style="left:227.2px;top:944.9px;font-size:33.24px;color:#f7effc;transform:scaleX(0.9517)">Support</span>
<span class="t r" style="left:227.3px;top:1277.0px;font-size:28.91px;color:#f7effc;transform:scaleX(1.0302)">Settings</span>
<span class="t r" style="left:227.3px;top:1363.8px;font-size:29.89px;color:#f7effc;transform:scaleX(0.9910)">Support</span>
<span class="t r" style="left:695.6px;top:115.5px;font-size:32.54px;color:#4b5057;transform:scaleX(0.9217)">Search Skills, Topics, or Tasks</span>
<span class="t r2" style="left:1851.6px;top:116.3px;font-size:30.73px;color:#111111;transform:scaleX(0.9734)">Date/05/23, 10:30 PM</span>
<span class="t m" style="left:2360.9px;top:100.1px;font-size:27.16px;color:#111111;transform:scaleX(1.0230)">Sarah Johnson</span>
<span class="t r" style="left:2361.6px;top:135.0px;font-size:26.96px;color:#4b5563;transform:scaleX(1.0384)">Admin/Learner</span>
<span class="t b" style="left:655.8px;top:257.5px;font-size:33.24px;color:#f8eafc;transform:scaleX(1.0387)">Skill Points Gained</span>
<span class="t r" style="left:771.4px;top:350.8px;font-size:27.65px;color:#f3e6fa;transform:scaleX(0.9951)">Skill Points</span>
<span class="t B" style="left:772.0px;top:386.9px;font-size:58.24px;color:#fbf3fd;transform:scaleX(1.0833)">25,480</span>
<span class="t r" style="left:978.1px;top:408.0px;font-size:28.35px;color:#72c4ea;transform:scaleX(0.9480)">+5.1%</span>
<span class="t b" style="left:1323.5px;top:257.5px;font-size:33.24px;color:#ffffff;transform:scaleX(1.0534)">Active Learning Paths</span>
<span class="t r" style="left:1323.6px;top:301.2px;font-size:27.65px;color:#f0f0ff;transform:scaleX(0.9998)">Top active learning paths</span>
<span class="t r2" style="left:1377.2px;top:352.9px;font-size:27.09px;color:#ffffff;transform:scaleX(0.9890)">Full-Stack Web Dev</span>
<span class="t r2" style="left:1377.2px;top:414.4px;font-size:27.09px;color:#ffffff;transform:scaleX(0.9919)">Data Science Fundamentals</span>
<span class="t r2" style="left:1378.2px;top:476.5px;font-size:27.09px;color:#ffffff;transform:scaleX(1.0005)">Computer Science</span>
<span class="t r" style="left:1849.3px;top:347.4px;font-size:27.65px;color:#ffffff;transform:scaleX(0.9099)">72%</span>
<span class="t r" style="left:1847.6px;top:409.4px;font-size:27.65px;color:#ffffff;transform:scaleX(0.9407)">45%</span>
<span class="t r" style="left:1848.0px;top:471.4px;font-size:27.65px;color:#ffffff;transform:scaleX(0.9340)">25%</span>
<span class="t b" style="left:1989.2px;top:257.5px;font-size:33.24px;color:#eaf4fd;transform:scaleX(1.0381)">Overall Progress</span>
<span class="t B" style="left:2212.4px;top:422.0px;font-size:62.57px;color:#ffffff;transform:scaleX(1.0429)">68%</span>
<span class="t b" style="left:655.3px;top:592.7px;font-size:33.1px;color:#151515;transform:scaleX(1.0613)">Skill Mastery Heatmap</span>
<span class="t r2" style="left:654.9px;top:646.4px;font-size:29.33px;color:#1a1a1a;transform:scaleX(0.9701)">Skills Mastery by Topic &amp; Proficiency</span>
<span class="t r2" style="left:1004.8px;top:928.8px;font-size:26.96px;color:#151515;transform:scaleX(1.0239)">Time</span>
<span class="t r2" style="left:635.1px;top:789.7px;font-size:28.5px;color:#151515;transform-origin:30.3px 13.9px;transform:rotate(-90deg)"><span class="i" style="transform:scaleX(0.9867)">Time</span></span>
<span class="t m" style="left:1412.9px;top:693.6px;font-size:23.25px;color:#151515;transform:scaleX(0.9125)">Expert</span>
<span class="t m" style="left:1412.9px;top:742.9px;font-size:23.25px;color:#151515;transform:scaleX(0.9125)">Expert</span>
<span class="t m" style="left:1412.9px;top:791.8px;font-size:23.25px;color:#151515;transform:scaleX(0.9368)">High</span>
<span class="t m" style="left:1412.9px;top:842.3px;font-size:22.97px;color:#151515;transform:scaleX(0.9145)">Low</span>
<span class="t m" style="left:1412.9px;top:890.9px;font-size:23.11px;color:#151515;transform:scaleX(0.9418)">Novice</span>
<span class="t b" style="left:1567.6px;top:593.1px;font-size:34.08px;color:#151515;transform:scaleX(1.0255)">Tasks &amp; Assignments</span>
<span class="t sb" style="left:1567.5px;top:667.8px;font-size:25.42px;color:#151515;transform:scaleX(1.0296)">Task Name</span>
<span class="t sb" style="left:1953.7px;top:667.8px;font-size:25.42px;color:#151515;transform:scaleX(1.0196)">Skill Area</span>
<span class="t sb" style="left:2138.0px;top:667.8px;font-size:25.42px;color:#151515;transform:scaleX(1.0370)">Due Date</span>
<span class="t sb" style="left:2287.5px;top:667.8px;font-size:25.42px;color:#151515;transform:scaleX(1.0724)">Status</span>
<span class="t sb" style="left:2475.1px;top:667.8px;font-size:25.42px;color:#151515;transform:scaleX(1.0886)">Priority</span>
<span class="t r2" style="left:1566.1px;top:733.9px;font-size:26.54px;color:#151515;transform:scaleX(0.9840)">Complete React Module 4</span>
<span class="t r2" style="left:1953.3px;top:733.9px;font-size:26.54px;color:#151515;transform:scaleX(0.9525)">Skill Area</span>
<span class="t r2" style="left:2137.7px;top:733.9px;font-size:26.54px;color:#151515;transform:scaleX(1.0123)">12/7/2023</span>
<span class="t r2" style="left:2301.2px;top:733.9px;font-size:26.54px;color:#151515;transform:scaleX(0.9709)">In Progress</span>
<span class="t r2" style="left:2488.9px;top:733.9px;font-size:26.54px;color:#151515;transform:scaleX(1.0075)">High</span>
<span class="t r2" style="left:1565.1px;top:805.9px;font-size:26.54px;color:#151515;transform:scaleX(0.9795)">Data Science Project Proposal</span>
<span class="t r2" style="left:1952.3px;top:805.9px;font-size:26.54px;color:#151515;transform:scaleX(0.9804)">Data Science</span>
<span class="t r2" style="left:2137.7px;top:805.9px;font-size:26.54px;color:#151515;transform:scaleX(1.0071)">12/1/2023</span>
<span class="t r2" style="left:2302.1px;top:805.9px;font-size:26.54px;color:#151515;transform:scaleX(0.9910)">Completed</span>
<span class="t r2" style="left:2488.9px;top:805.9px;font-size:26.54px;color:#151515;transform:scaleX(1.0050)">Med</span>
<span class="t r2" style="left:1566.1px;top:877.2px;font-size:26.54px;color:#151515;transform:scaleX(0.9763)">Complete React 2</span>
<span class="t r2" style="left:1953.3px;top:877.2px;font-size:26.54px;color:#151515;transform:scaleX(0.9840)">Coding</span>
<span class="t r2" style="left:2138.7px;top:877.2px;font-size:26.54px;color:#151515;transform:scaleX(1.0036)">21/7/2023</span>
<span class="t r2" style="left:2301.1px;top:877.2px;font-size:26.54px;color:#151515;transform:scaleX(1.0104)">Upcoming</span>
<span class="t r2" style="left:2489.0px;top:877.2px;font-size:26.54px;color:#151515;transform:scaleX(0.9664)">Low</span>
<span class="t r2" style="left:1566.1px;top:949.2px;font-size:26.54px;color:#151515;transform:scaleX(0.9840)">Complete React Module 4</span>
<span class="t r2" style="left:1952.3px;top:949.2px;font-size:26.54px;color:#151515;transform:scaleX(0.9804)">Data Science</span>
<span class="t r2" style="left:2137.7px;top:949.2px;font-size:26.54px;color:#151515;transform:scaleX(1.0071)">12/1/2023</span>
<span class="t r2" style="left:2301.1px;top:949.2px;font-size:26.54px;color:#151515;transform:scaleX(1.0104)">Upcoming</span>
<span class="t r2" style="left:2489.0px;top:949.2px;font-size:26.54px;color:#151515;transform:scaleX(0.9664)">Low</span>
<span class="t b" style="left:654.2px;top:1045.0px;font-size:32.54px;color:#151515;transform:scaleX(1.0890)">Productivity Hours</span>
<span class="t r2" style="left:688.5px;top:1110.5px;font-size:24.58px;color:#151515;transform:scaleX(0.9590)">16</span>
<span class="t r2" style="left:688.5px;top:1168.7px;font-size:24.58px;color:#151515;transform:scaleX(0.9590)">12</span>
<span class="t r2" style="left:700.7px;top:1226.6px;font-size:24.58px;color:#151515;transform:scaleX(1.0323)">8</span>
<span class="t r2" style="left:701.7px;top:1284.4px;font-size:24.58px;color:#151515;transform:scaleX(0.9552)">4</span>
<span class="t r2" style="left:701.7px;top:1342.6px;font-size:24.58px;color:#151515;transform:scaleX(0.9552)">0</span>
<span class="t r2" style="left:536.7px;top:1227.5px;font-size:24.2px;color:#151515;transform-origin:128.7px 11.8px;transform:rotate(-90deg)"><span class="i" style="transform:scaleX(1.0091)">Productive Study Hours</span></span>
<span class="t r2" style="left:758.9px;top:1370.1px;font-size:25.42px;color:#151515;transform:scaleX(1.0173)">Mon</span>
<span class="t r2" style="left:884.5px;top:1370.1px;font-size:25.42px;color:#151515;transform:scaleX(0.9167)">Tue</span>
<span class="t r2" style="left:998.4px;top:1370.1px;font-size:25.42px;color:#151515;transform:scaleX(0.9305)">Wed</span>
<span class="t r2" style="left:1120.2px;top:1370.1px;font-size:25.42px;color:#151515;transform:scaleX(0.9292)">Thu</span>
<span class="t r2" style="left:1243.2px;top:1370.1px;font-size:25.42px;color:#151515;transform:scaleX(1.0008)">Fri</span>
<span class="t r2" style="left:1384.2px;top:1163.7px;font-size:25.42px;color:#151515;transform:scaleX(0.9431)">Coding</span>
<span class="t r2" style="left:1383.3px;top:1209.0px;font-size:25.42px;color:#151515;transform:scaleX(0.9248)">Reading</span>
<span class="t r2" style="left:1383.3px;top:1253.7px;font-size:25.42px;color:#151515;transform:scaleX(0.9624)">Practice</span>
<span class="t r2" style="left:1383.3px;top:1298.3px;font-size:25.42px;color:#151515;transform:scaleX(0.9624)">Practice</span>
<span class="t b" style="left:1566.0px;top:1045.3px;font-size:32.4px;color:#151515;transform:scaleX(1.0349)">Learning Resources Breakdown</span>
<span class="t r" style="left:1802.7px;top:1189.4px;font-size:26.82px;color:#ffffff;transform:scaleX(0.8953)">35%</span>
<span class="t r" style="left:1659.6px;top:1151.1px;font-size:26.82px;color:#ffffff;transform:scaleX(0.8953)">20%</span>
<span class="t r" style="left:1619.8px;top:1257.9px;font-size:26.82px;color:#ffffff;transform:scaleX(0.8953)">20%</span>
<span class="t r" style="left:1726.9px;top:1332.2px;font-size:26.82px;color:#ffffff;transform:scaleX(0.8953)">25%</span>
<span class="t r2" style="left:1942.4px;top:1165.1px;font-size:25.14px;color:#151515;transform:scaleX(0.9330)">Courses</span>
<span class="t r2" style="left:1941.4px;top:1211.0px;font-size:25.14px;color:#151515;transform:scaleX(0.9488)">Books</span>
<span class="t r2" style="left:1941.4px;top:1256.0px;font-size:25.14px;color:#151515;transform:scaleX(0.9628)">Projects</span>
<span class="t r2" style="left:1943.3px;top:1301.3px;font-size:25.14px;color:#151515;transform:scaleX(0.9470)">Tutorials</span>
<span class="t b" style="left:2124.6px;top:1044.7px;font-size:32.96px;color:#151515;transform:scaleX(1.0737)">Learning Notifications</span>
<span class="t r2" style="left:2219.8px;top:1143.2px;font-size:26.54px;color:#151515;transform:scaleX(0.8835)">New Skill Badges Earned!</span>
<span class="t r2" style="left:2219.8px;top:1250.6px;font-size:26.54px;color:#151515;transform:scaleX(0.8818)">Next Goal: Complete React Cert</span>
<span class="t r2" style="left:2219.8px;top:1357.9px;font-size:26.54px;color:#151515;transform:scaleX(0.8848)">Project Review: Good Progress!</span>
</div></div>
<svg width="110" height="110" viewBox="-55 -55 110 110" style="position:absolute;left:2585.1px;top:1368.8px">
 <path d="M0 -47.8 C1.200 -47.800 1.800 -47 2 -45.500 C7 -20 20 -7 45.500 -2 C47 -1.800 47.800 -1.200 47.800 0 C47.800 1.200 47 1.800 45.500 2 C20 7 7 20 2 45.500 C1.800 47 1.200 47.800 0 47.800 C-1.200 47.800 -1.800 47 -2 45.500 C-7 20 -20 7 -45.500 2 C-47 1.800 -47.800 1.200 -47.800 0 C-47.800 -1.200 -47 -1.800 -45.500 -2 C-20 -7 -7 -20 -2 -45.500 C-1.800 -47 -1.200 -47.800 0 -47.800 Z" fill="rgba(255,255,255,.52)"/>
</svg>
</body>
</html>
